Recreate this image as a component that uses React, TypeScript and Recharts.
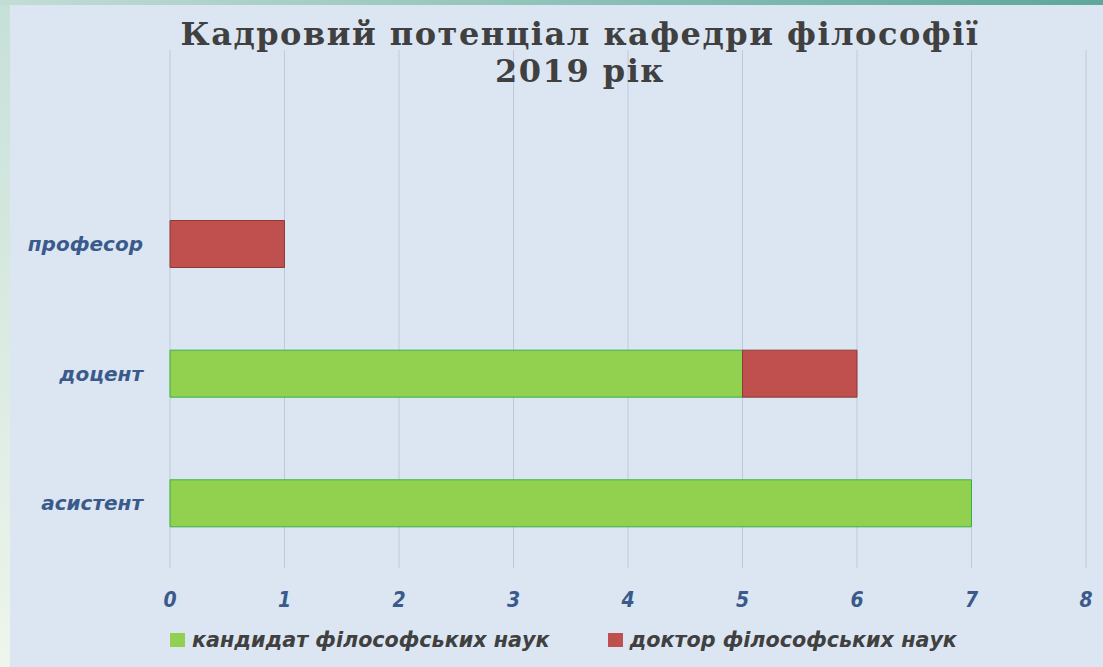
import React from 'react';
import { BarChart, Bar, XAxis, YAxis, CartesianGrid } from 'recharts';

const categories = ['професор', 'доцент', 'асистент'];
const candidateValues = [0, 5, 7];
const doctorValues = [1, 1, 0];
const xTicks = [0, 1, 2, 3, 4, 5, 6, 7, 8];

const candidateName = 'кандидат філософських наук';
const doctorName = 'доктор філософських наук';
const candidateColor = '#92d050';
const doctorColor = '#c0504d';

const data = categories.map((name, i) => ({
  name,
  candidate: candidateValues[i],
  doctor: doctorValues[i],
}));

const tickBlue = '#3a5a8c';
const narrowFont = '"DejaVu Sans Condensed", "Liberation Sans Narrow", "Open Sans", sans-serif';
const wideFont = '"DejaVu Sans", sans-serif';

const legendItems = [
  { name: candidateName, color: candidateColor },
  { name: doctorName, color: doctorColor },
];

export default function App() {
  return (
    <div style={{ position: 'absolute', left: 0, top: 0, width: 1103, height: 667, overflow: 'hidden',
      background: 'linear-gradient(180deg, #c6e0d8 0%, #eef5ec 100%)' }}>
      <div style={{ position: 'absolute', left: 0, top: 0, width: 1103, height: 5,
        background: 'linear-gradient(90deg, #c2ddd6 0%, #8fc2b8 50%, #5ea79b 100%)' }} />
      <div style={{ position: 'absolute', left: 10, top: 5, width: 1093, height: 662, background: '#dce6f2' }} />
      <div style={{ position: 'absolute', left: 0, top: 0 }}>
        <BarChart width={1103} height={667} data={data} layout="vertical"
          margin={{ top: 50, right: 17, bottom: 59, left: 10 }} barCategoryGap="32%">
          <CartesianGrid horizontal={false} stroke="#bccadb" />
          <XAxis type="number" domain={[0, 8]} ticks={xTicks} axisLine={false} tickLine={false}
            tickSize={0} tickMargin={24} height={40}
            tick={{ fill: tickBlue, fontSize: 21, fontStyle: 'italic', fontWeight: 700, fontFamily: narrowFont }} />
          <YAxis type="category" dataKey="name" width={160} axisLine={false} tickLine={false}
            tickSize={0} tickMargin={27} padding={{ top: 129, bottom: 0 }}
            tick={{ fill: tickBlue, fontSize: 20, fontStyle: 'italic', fontWeight: 700, fontFamily: wideFont }} />
          <Bar dataKey="candidate" name={candidateName} stackId="a" fill={candidateColor} stroke="#35b04a"
            strokeWidth={1} isAnimationActive={false} />
          <Bar dataKey="doctor" name={doctorName} stackId="a" fill={doctorColor} stroke="#8a3a38"
            strokeWidth={1} isAnimationActive={false} />
        </BarChart>
      </div>
      <div style={{ position: 'absolute', left: 170, top: 627, height: 26, display: 'flex', alignItems: 'center', gap: 58 }}>
        {legendItems.map((it) => (
          <div key={it.name} style={{ display: 'flex', alignItems: 'center' }}>
            <span style={{ width: 15, height: 14, background: it.color, display: 'inline-block', marginRight: 7 }} />
            <span style={{ fontFamily: wideFont, fontStyle: 'italic', fontWeight: 700, fontSize: 20.7, color: '#404040' }}>
              {it.name}
            </span>
          </div>
        ))}
      </div>
      <div style={{ position: 'absolute', left: 0, top: 16, width: 1160, textAlign: 'center',
        fontFamily: '"DejaVu Serif", serif', fontWeight: 700, fontSize: 32, letterSpacing: 1.5,
        lineHeight: '37px', color: '#404040' }}>
        Кадровий потенціал кафедри філософії<br />2019 рік
      </div>
    </div>
  );
}
